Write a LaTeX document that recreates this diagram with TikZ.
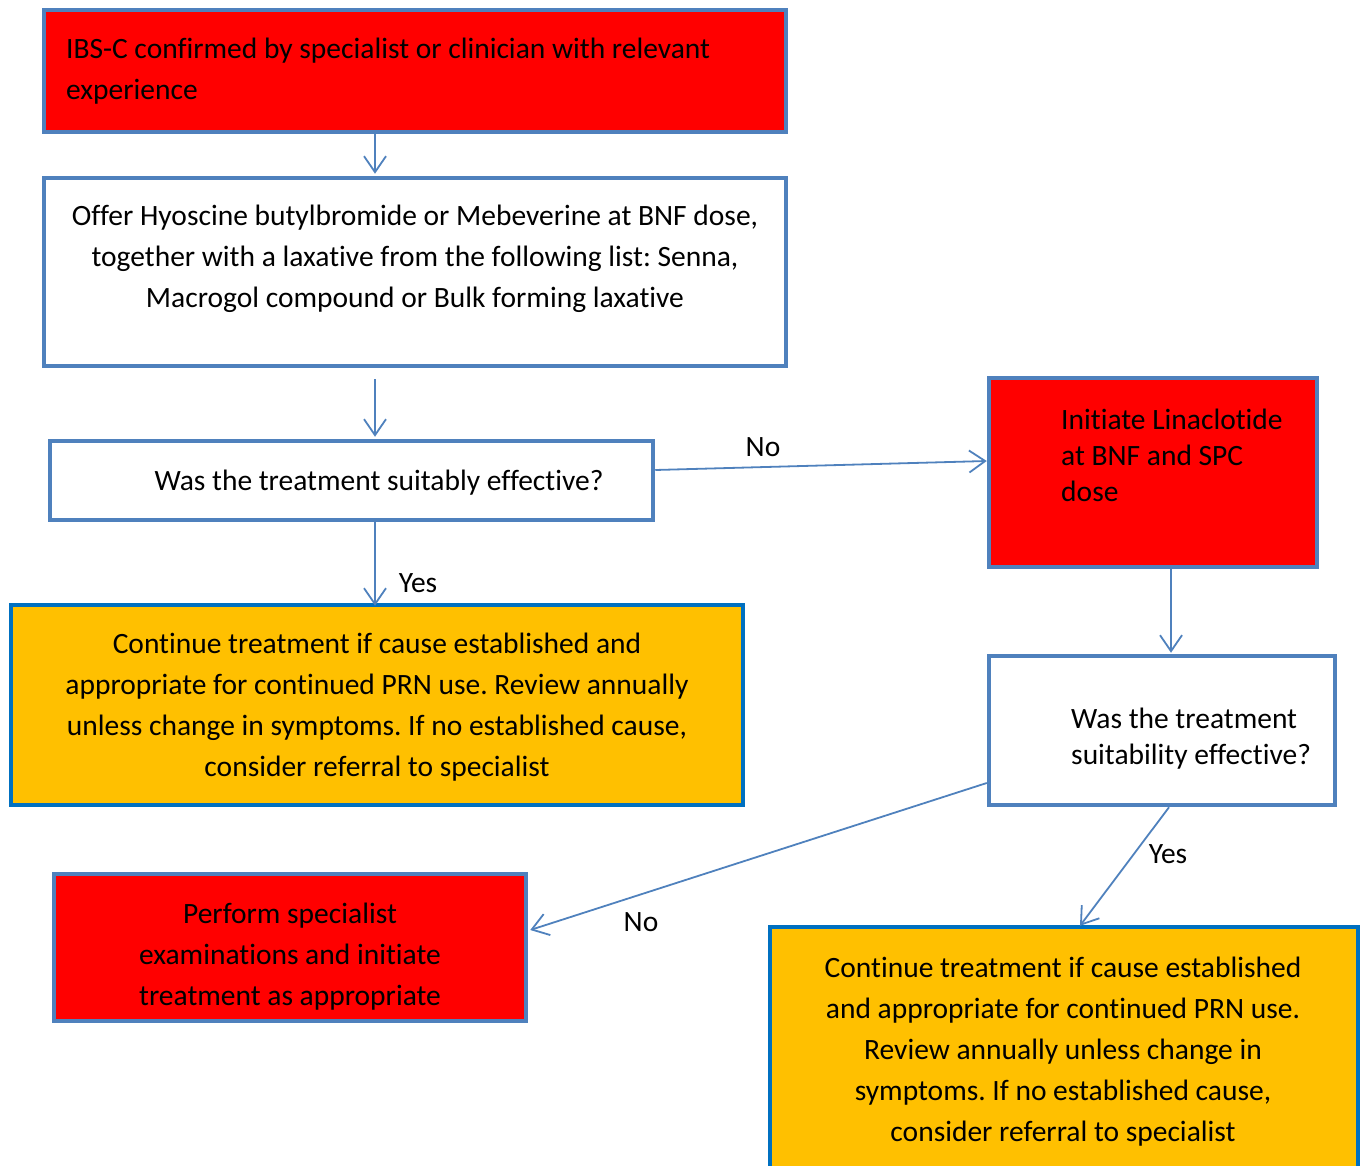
\documentclass[tikz,border=0pt]{standalone}
\usepackage{fontspec}
\setmainfont[Ligatures={NoCommon}]{Carlito}
\usetikzlibrary{arrows.meta,calc}
\definecolor{bordblue}{HTML}{4F81BD}
\definecolor{darkblue}{HTML}{0070C0}
\definecolor{boxred}{HTML}{FF0000}
\definecolor{boxorange}{HTML}{FFC000}
\frenchspacing
\tikzset{
  box/.style={draw=bordblue, line width=4.5pt, rectangle, inner sep=0pt},
  redbox/.style={box, fill=boxred},
  whitebox/.style={box, fill=white},
  orangebox/.style={box, draw=darkblue, fill=boxorange},
  txt/.style={font=\fontsize{29.5}{41}\selectfont\frenchspacing, inner sep=0pt, text=black},
  txtsm/.style={font=\fontsize{29.5}{36}\selectfont\frenchspacing, inner sep=0pt, text=black},
  conn/.style={draw=bordblue, line width=1.8pt, -{Straight Barb[length=16pt,width=22pt,line width=1.8pt]}},
  lbl/.style={font=\fontsize{29.5}{34}\selectfont, inner sep=0pt, text=black}
}
\begin{document}
\begin{tikzpicture}[x=1pt,y=-1pt]
\useasboundingbox (0,0) rectangle (1367,1166);
\begin{scope}
\clip (0,0) rectangle (1367,1166);
\node[redbox, minimum width=742pt, minimum height=122pt] (b1) at (415,71) {};
\node[whitebox, minimum width=742pt, minimum height=188pt] (b2) at (415,272) {};
\node[whitebox, minimum width=603pt, minimum height=79pt] (b3) at (351.5,480.5) {};
\node[redbox, minimum width=328pt, minimum height=189pt] (b4) at (1153,472.5) {};
\node[orangebox, minimum width=732pt, minimum height=200pt] (b5) at (377,705) {};
\node[whitebox, minimum width=346pt, minimum height=149pt] (b6) at (1162,730.5) {};
\node[redbox, minimum width=472pt, minimum height=147pt] (b7) at (290,947.5) {};
\node[orangebox, minimum width=588pt, minimum height=253pt] (b8) at (1064,1053.5) {};
\end{scope}

\node[txt, anchor=west, align=left] (t1) at (66,71) {IBS-C confirmed by specialist or clinician with relevant\\experience};
\node[txt, align=center] (t2) at (415,259) {Offer Hyoscine butylbromide or Mebeverine at BNF dose,\\together with a laxative from the following list: Senna,\\Macrogol compound or Bulk forming laxative};
\node[txt] (t3) at (379,483) {Was the treatment suitably effective?};
\node[txtsm, anchor=west, align=left] (t4) at (1061,455) {Initiate Linaclotide\\at BNF and SPC\\dose};
\node[txt, align=center] (t5) at (377,707.5) {Continue treatment if cause established and\\appropriate for continued PRN use. Review annually\\unless change in symptoms. If no established cause,\\consider referral to specialist};
\node[txtsm, anchor=west, align=left] (t6) at (1071,739) {Was the treatment\\suitability effective?};
\node[txt, align=center] (t7) at (290,956.5) {Perform specialist\\examinations and initiate\\treatment as appropriate};
\node[txt, align=center] (t8) at (1063,1051.5) {Continue treatment if cause established\\and appropriate for continued PRN use.\\Review annually unless change in\\symptoms. If no established cause,\\consider referral to specialist};

\draw[conn] ([xshift=-40pt,yshift=4pt]b1.south) -- ([xshift=-40pt,yshift=2pt]b2.north);
\draw[conn] ([xshift=-40pt,yshift=-11pt]b2.south) -- ([xshift=23.5pt,yshift=2pt]b3.north);
\draw[conn] ([yshift=10.5pt]b3.east) -- ([yshift=11.5pt]b4.west);
\draw[conn] ([xshift=23.5pt]b3.south) -- ([xshift=-2pt,yshift=-3pt]b5.north);
\draw[conn] ([xshift=18pt]b4.south) -- ([xshift=9pt,yshift=1pt]b6.north);
\draw[conn] ([yshift=-52.5pt]b6.west) -- ([xshift=2pt,yshift=17.5pt]b7.east);
\draw[conn] ([xshift=7pt]b6.south) -- ([xshift=16pt,yshift=-1pt]b8.north);

\node[lbl] (l1) at (763,447) {No};
\node[lbl] (l2) at (418,583) {Yes};
\node[lbl] (l3) at (641,922) {No};
\node[lbl] (l4) at (1168,854) {Yes};
\end{tikzpicture}
\end{document}
